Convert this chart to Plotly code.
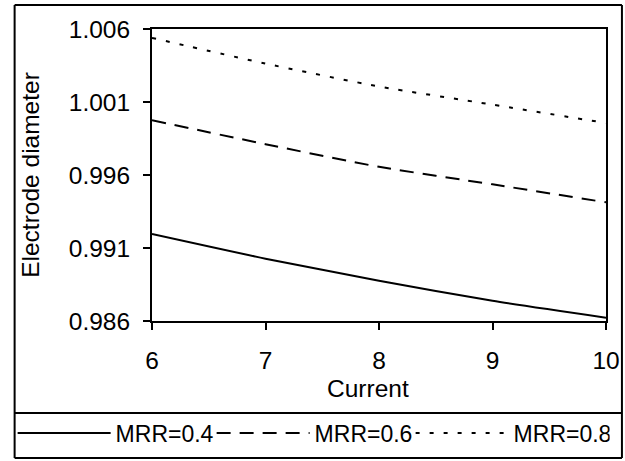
import plotly.graph_objects as go

current = [6, 7, 8, 9, 10]
mrr_04 = [0.99196, 0.99027, 0.98876, 0.98738, 0.98623]
mrr_06 = [0.99975, 0.99811, 0.99656, 0.99536, 0.99413]
mrr_08 = [1.00539, 1.00363, 1.00206, 1.00082, 0.99956]
series_names = ["MRR=0.4", "MRR=0.6", "MRR=0.8"]
y_tickvals = [0.986, 0.991, 0.996, 1.001, 1.006]
y_ticktext = ["0.986", "0.991", "0.996", "1.001", "1.006"]
x_tickvals = [6, 7, 8, 9, 10]
x_ticktext = ["6", "7", "8", "9", "10"]
x_title = "Current"
y_title = "Electrode diameter"

FONT = "Liberation Sans, Arial, sans-serif"
FS = 24.5
fig = go.Figure()
dashes = ["solid", "14px,9px", "4px,10px"]
for name, ys, d in zip(series_names, [mrr_04, mrr_06, mrr_08], dashes):
    fig.add_trace(go.Scatter(x=current, y=ys, mode="lines", name=name,
                             line=dict(color="black", width=2, dash=d, shape="spline", smoothing=0.6)))

axis_common = dict(showline=True, linecolor="black", linewidth=2, mirror=True,
                   ticks="outside", ticklen=7, tickwidth=2, tickcolor="black",
                   showgrid=False, zeroline=False, automargin=False,
                   tickfont=dict(family=FONT, size=FS, color="black"))
fig.update_xaxes(range=[6, 10], tickvals=x_tickvals, ticktext=x_ticktext,
                 ticklabelstandoff=10, **axis_common)
fig.update_yaxes(range=[0.986, 1.006], tickvals=y_tickvals, ticktext=y_ticktext,
                 title=dict(text=y_title, font=dict(family=FONT, size=FS, color="black"), standoff=22),
                 ticklabelstandoff=8, **axis_common)

frame_line = dict(color="black", width=2)
fig.update_layout(
    width=625, height=480,
    margin=dict(l=150, r=19, t=29, b=159),
    paper_bgcolor="white", plot_bgcolor="white",
    font=dict(family=FONT, size=FS, color="black"),
    showlegend=True,
    legend=dict(orientation="h", x=-0.307, xanchor="left", y=-0.3836, yanchor="middle",
                itemwidth=93, entrywidth=91, entrywidthmode="pixels",
                font=dict(family=FONT, size=23, color="black"),
                bgcolor="rgba(0,0,0,0)", tracegroupgap=0, traceorder="normal"),
    annotations=[
        dict(text=x_title, xref="paper", yref="paper", x=0.4759, y=-0.2295,
             xanchor="center", yanchor="middle", showarrow=False,
             font=dict(family=FONT, size=FS, color="black")),
    ],
    shapes=[
        # outer chart frame (drawn as four edges)
        dict(type="line", xref="paper", yref="paper", x0=-0.3026, x1=1.0351, y0=1.0822, y1=1.0822, line=frame_line),
        dict(type="line", xref="paper", yref="paper", x0=-0.3026, x1=1.0351, y0=-0.4692, y1=-0.4692, line=frame_line),
        dict(type="line", xref="paper", yref="paper", x0=-0.3026, x1=-0.3026, y0=-0.4692, y1=1.0822, line=frame_line),
        dict(type="line", xref="paper", yref="paper", x0=1.0351, x1=1.0351, y0=-0.4692, y1=1.0822, line=frame_line),
        # legend separator
        dict(type="line", xref="paper", yref="paper", x0=-0.3026, x1=1.0351, y0=-0.3151, y1=-0.3151, line=frame_line),
    ],
)
pin_script = (
    "document.documentElement.style.overflow='hidden';"
    "document.body.style.margin='0';document.body.style.overflow='hidden';"
    "var d=document.querySelector('.plotly-graph-div');"
    "if(d){d.style.position='fixed';d.style.top='0px';d.style.left='0px';}"
    "window.scrollTo(0,0);"
)
fig.write_html("out.html", config={"displayModeBar": False}, post_script=pin_script)
